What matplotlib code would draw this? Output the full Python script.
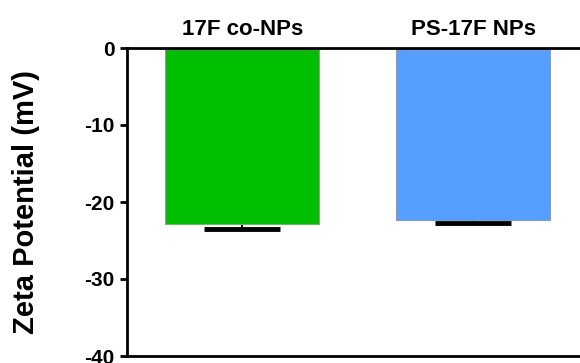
import matplotlib
matplotlib.use("Agg")
import matplotlib.pyplot as plt
import numpy as np

categories = ["17F co-NPs", "PS-17F NPs"]
values = [-22.9, -22.3]
errors = [0.6, 0.4]
colors = ["#00BF00", "#559FFF"]
yticks = [0, -10, -20, -30, -40]

plt.rcParams['font.family'] = ['Liberation Sans', 'DejaVu Sans']
plt.rcParams['font.weight'] = 'bold'

fig = plt.figure(figsize=(5.8, 3.63), dpi=100)
ax = fig.add_axes([127/580, 1 - 356/363, (588.5 - 127)/580, (356 - 48)/363])

x = np.arange(len(categories))
ax.bar(x, values, width=0.667, color=colors, edgecolor="#999999", linewidth=0.8, zorder=3)
ax.errorbar(x, values, yerr=errors, fmt='none', ecolor='black',
            elinewidth=1.5, capsize=27.7, capthick=3.5, zorder=2)

ax.set_xlim(-0.5, 1.5)
ax.set_ylim(-40, 0)
ax.set_yticks(yticks)
ax.set_yticklabels([str(t) for t in yticks], fontsize=15, fontweight='bold')
ax.xaxis.tick_top()
ax.set_xticks(x)
ax.set_xticklabels(categories, fontsize=16, fontweight='bold')
ax.tick_params(axis='x', direction='in', length=8, width=2, pad=5.5)
ax.tick_params(axis='y', direction='out', length=5, width=2, pad=4)
for s in ['left', 'top', 'bottom']:
    ax.spines[s].set_linewidth(2)
    ax.spines[s].set_zorder(4)
ax.spines['right'].set_visible(False)
ax.set_ylabel("Zeta Potential (mV)", fontsize=21, fontweight='bold')
ax.yaxis.set_label_coords((40 - 127) / 461.5, 0.5)

fig.savefig("out.png", dpi=100)
